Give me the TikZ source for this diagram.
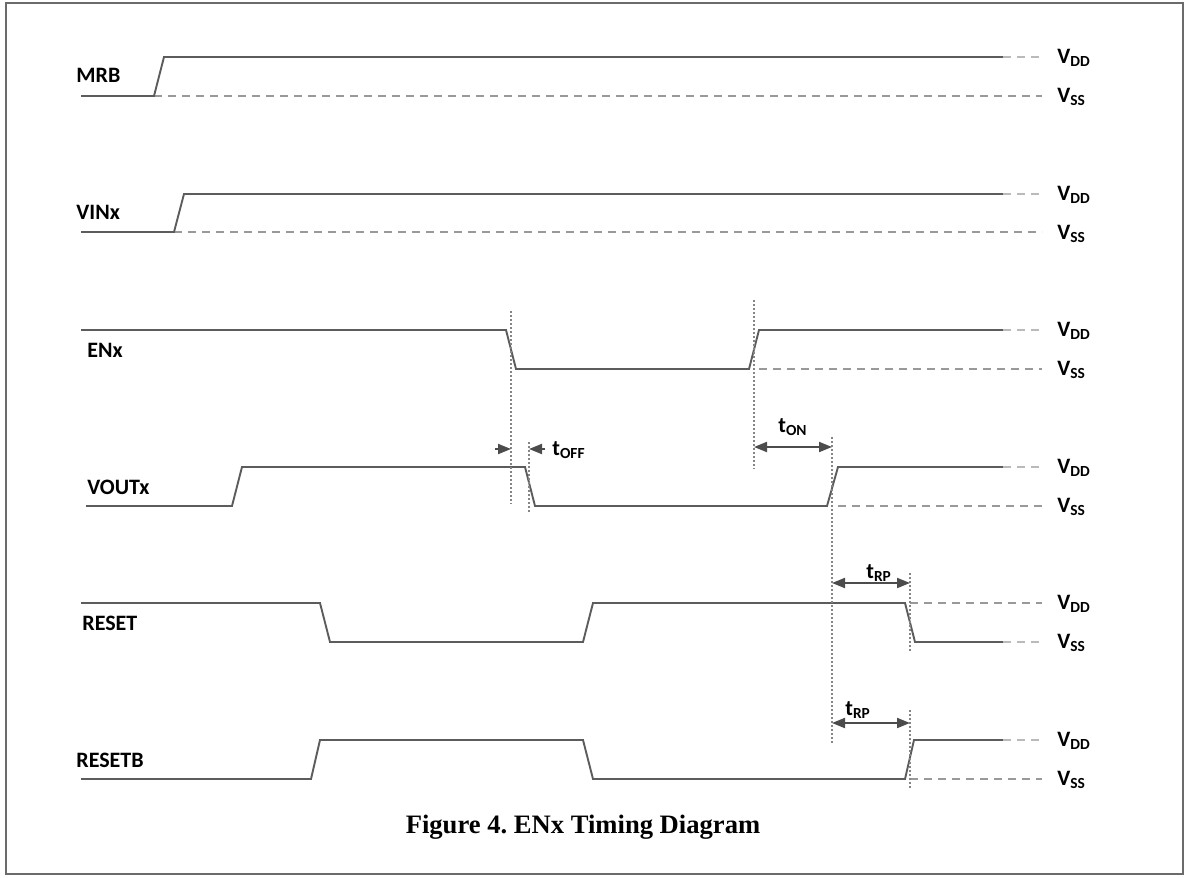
\documentclass[tikz,border=0pt]{standalone}
\usepackage{fontspec}
\setmainfont{Carlito}
\newfontfamily\capfont{Liberation Serif}
\usetikzlibrary{positioning, arrows.meta}

% level / time label with a lowered small suffix
\newcommand{\sublab}[2]{#1\raisebox{-1.7pt}{\fontsize{7.7}{8}\selectfont #2}}

\begin{document}
\begin{tikzpicture}[x=0.5pt, y=-0.5pt, >={Triangle[length=6.5pt,width=5pt]},
    wave/.style={draw=black!64, line width=0.95pt},
    guide/.style={draw=black!40, line width=0.7pt, dash pattern=on 4pt off 3pt},
    tail/.style={draw=black!27, line width=0.7pt, dash pattern=on 4pt off 3pt},
    vline/.style={draw=black!48, line width=0.75pt, dash pattern=on 1pt off 1pt},
    dim/.style={draw=black!70, line width=1pt},
    signame/.style={anchor=base west, font=\bfseries\fontsize{11}{12}\selectfont},
    lvl/.style={anchor=base west, font=\bfseries\fontsize{11}{12}\selectfont, inner sep=0pt}]
    \useasboundingbox (0,0) rectangle (1187,877);
    \draw[draw=black!58, line width=1.3pt] (6,3) rectangle (1183,874);

    % Signal names
    \node (mrb) [signame, inner sep=0pt] at (76,83) {MRB};
    \node (vin) [signame, inner sep=0pt] at (76,220) {VINx};
    \node (en) [signame, inner sep=0pt] at (87,357) {ENx};
    \node (vout) [signame, inner sep=0pt] at (87,494) {VOUTx};
    \node (rst) [signame, inner sep=0pt] at (82,630) {RESET};
    \node (rstb) [signame, inner sep=0pt] at (76,767) {RESETB};

    % Levels
    \foreach \y [count=\i] in {57,194,330,467,603,740} {
        \node (vdd\i) [lvl] at (1057,\y+6.5) {\sublab{V}{DD}};
        \node (vss\i) [lvl] at (1057,\y+45.5) {\sublab{V}{SS}};
    }

    % Waveforms
    \draw[guide] (154,96) -- (1042,96);
    \draw[wave] (81,96) -- (154,96) -- (164,57) -- (1003,57);
    \draw[tail] (1003,57) -- (1042,57);

    \draw[guide] (174,232) -- (1042,232);
    \draw[wave] (81,232) -- (174,232) -- (184,194) -- (1003,194);
    \draw[tail] (1003,194) -- (1042,194);

    \draw[wave] (81,330) -- (506,330) -- (516,369) -- (749,369) -- (759,330) -- (1003,330);
    \draw[guide] (759,369) -- (1042,369);
    \draw[tail] (1003,330) -- (1042,330);

    \draw[wave] (86,506) -- (232,506) -- (242,467) -- (525,467) -- (535,506) -- (827,506) -- (838,467) -- (1003,467);
    \draw[guide] (838,506) -- (1042,506);
    \draw[tail] (1003,467) -- (1042,467);

    \draw[wave] (81,603) -- (320,603) -- (330,642) -- (583,642) -- (593,603) -- (905,603) -- (915,642) -- (1003,642);
    \draw[guide] (910,603) -- (1042,603);
    \draw[tail] (1003,642) -- (1042,642);

    \draw[wave] (81,779) -- (311,779) -- (320,740) -- (583,740) -- (593,779) -- (905,779) -- (914,740) -- (1003,740);
    \draw[guide] (910,779) -- (1042,779);
    \draw[tail] (1003,740) -- (1042,740);

    % Edge markers
    \draw[vline] (511,311) -- (511,504);
    \draw[vline] (754,300) -- (754,469);
    \draw[vline] (529,442) -- (529,514);
    \draw[vline] (832,437) -- (832,743);
    \draw[vline] (910,573) -- (910,652);
    \draw[vline] (910,710) -- (910,789);

    % Timing arrows
    \coordinate (offL) at (495,449);
    \coordinate (offA) at (511,449);
    \coordinate (offB) at (529,449);
    \coordinate (offR) at (545,449);
    \coordinate (onA) at (754,447);
    \coordinate (onB) at (832,447);
    \coordinate (rpA) at (832,583);
    \coordinate (rpB) at (910,583);
    \coordinate (rpC) at (832,723);
    \coordinate (rpD) at (910,723);
    \draw[dim, ->] (offL) -- (offA);
    \draw[dim, ->] (offR) -- (offB);
    \draw[dim, <->] (onA) -- (onB);
    \draw[dim, <->] (rpA) -- (rpB);
    \draw[dim, <->] (rpC) -- (rpD);

    \node (toff) [lvl] at (552,455) {\sublab{t}{OFF}};
    \node (ton) [lvl] at (778,432) {\sublab{t}{ON}};
    \node (trp1) [lvl] at (866,578) {\sublab{t}{RP}};
    \node (trp2) [lvl] at (845,715) {\sublab{t}{RP}};

    % Caption
    \node (cap) [anchor=base, inner sep=0pt, font=\capfont\bfseries\fontsize{13.3}{15}\selectfont] at (583,833) {Figure 4.\ ENx Timing Diagram};
\end{tikzpicture}
\end{document}
